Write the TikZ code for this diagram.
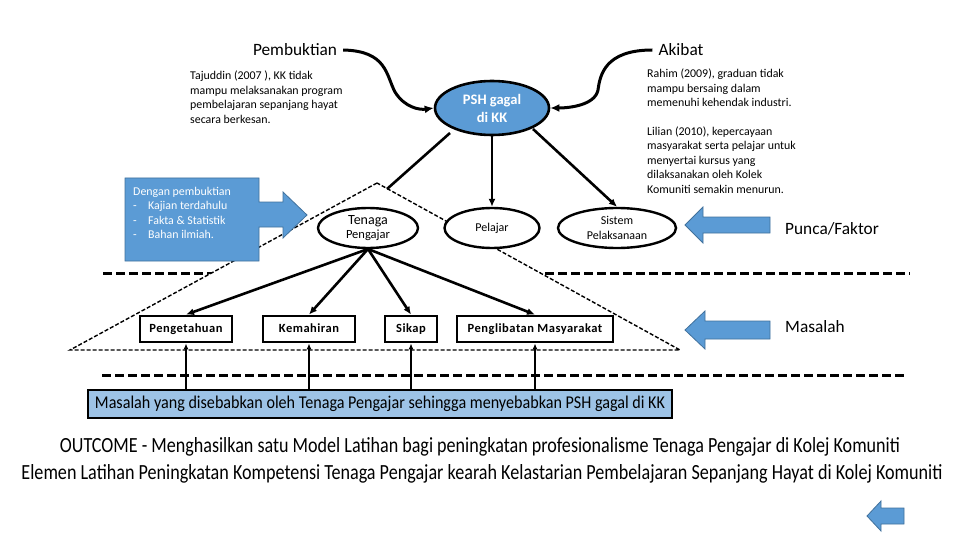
\documentclass[tikz,border=0pt]{standalone}
\usepackage{fontspec}
\setmainfont{Carlito}
\usetikzlibrary{shapes.geometric,arrows.meta}
\definecolor{blueA}{HTML}{5B9BD5}
\definecolor{blueB}{HTML}{41719C}
\definecolor{blueL}{HTML}{9DC3E6}
\begin{document}
\begin{tikzpicture}[x=1pt,y=-1pt,
  conn/.style={line width=2.6pt,-{Latex[length=8pt,width=7pt]}},
  upconn/.style={line width=2.4pt,-{Latex[length=6pt,width=5pt]}},
  curvy/.style={line width=3pt,-{Latex[length=9pt,width=8pt]}},
  oval/.style={ellipse,draw=black,line width=2.4pt,fill=white,minimum height=40pt,inner sep=0pt,align=center},
  boxnode/.style={rectangle,draw=black,line width=2.8pt,fill=white,minimum height=26pt,inner sep=0pt,text height=9pt,text depth=2.5pt,font=\fontsize{12.5}{14}\selectfont\bfseries\addfontfeature{LetterSpace=4}},
  thickdash/.style={line width=3pt,dash pattern=on 9pt off 4pt},
  thindash/.style={line width=1.4pt,dash pattern=on 4pt off 2pt},
  blockarrow/.style={fill=blueA,draw=blueB,line width=0.8pt},
  smalltext/.style={font=\fontsize{11.9}{14.4}\selectfont,align=left,inner sep=0pt},
  bigtext/.style={font=\fontsize{17.3}{20}\selectfont,inner sep=0pt}
]
\useasboundingbox[fill=white] (0,0) rectangle (960,540);

% thick dashed lines
\coordinate (d1a) at (103,273); \coordinate (d1b) at (910,273);
\draw[thickdash] (d1a) -- (d1b);
\coordinate (d2a) at (102,375); \coordinate (d2b) at (905,375);
\draw[thickdash] (d2a) -- (d2b);

% triangle
\coordinate (tA) at (377,183);
\coordinate (tL) at (70,350);
\coordinate (tR) at (680,350);
\draw[thindash,fill=white] (tA) -- (tL) -- (tR) -- cycle;

% titles
\node[bigtext] (pemb) at (295,50) {Pembuktian};
\node[bigtext] (akib) at (681,50) {Akibat};

% PSH ellipse
\node[ellipse,draw=black,line width=2.6pt,fill=blueA,minimum width=114pt,minimum height=54pt,inner sep=0pt,align=center,text=white,font=\fontsize{14.5}{18}\selectfont\bfseries] (psh) at (492,108) {PSH gagal\\di KK};

% curves
\draw[curvy] ([xshift=6pt]pemb.east) .. controls (387,51) and (386,75) .. (395,92) .. controls (405,108) and (420,110) .. (psh.west);
\draw[curvy] ([xshift=-6pt]akib.west) .. controls (605,50) and (600,75) .. (598,90) .. controls (595,105) and (570,108) .. (psh.east);

% quote texts
\node[smalltext,anchor=north west] (taj) at (190,71) {Tajuddin (2007 ), KK tidak\\mampu melaksanakan program\\pembelajaran sepanjang hayat\\secara berkesan.};
\node[smalltext,anchor=north west] (rah) at (647,69) {Rahim (2009), graduan tidak\\mampu bersaing dalam\\memenuhi kehendak industri.\\[14.4pt]Lilian (2010), kepercayaan\\masyarakat serta pelajar untuk\\menyertai kursus yang\\dilaksanakan oleh Kolek\\Komuniti semakin menurun.};

% left callout
\path[blockarrow] (125,178) -- (259,178) -- (259,202) -- (283,202) -- (283,192) -- (307,215) -- (283,238) -- (283,227) -- (259,227) -- (259,261) -- (125,261) -- cycle;
\node[smalltext,anchor=north west,text=white] (dengan) at (133,187) {Dengan pembuktian\\\makebox[15pt][l]{-}Kajian terdahulu\\\makebox[15pt][l]{-}Fakta \& Statistik\\\makebox[15pt][l]{-}Bahan ilmiah.};

% ovals
\node[oval,minimum width=100pt] (ten) at (368,228) {{\fontsize{14}{15}\selectfont Tenaga}\\[2pt]{\fontsize{12.5}{14}\selectfont Pengajar}};
\node[oval,minimum width=95pt,font=\fontsize{12}{14}\selectfont] (pel) at (492,228) {Pelajar};
\node[oval,minimum width=118pt,font=\fontsize{12}{14.5}\selectfont] (sis) at (617,228) {Sistem\\Pelaksanaan};

% connectors from PSH
\coordinate (tenTop) at (387,189);
\draw[line width=2.6pt] (450,133) -- (tenTop);
\draw[conn] (psh.south) -- (pel.north);
\draw[conn] (533,129) -- (sis.north);

% boxes
\node[boxnode,minimum width=92pt] (peng) at (186,329) {Pengetahuan};
\node[boxnode,minimum width=92pt] (kem) at (309,329) {Kemahiran};
\node[boxnode,minimum width=52pt] (sik) at (411,329) {Sikap};
\node[boxnode,minimum width=156pt] (pgl) at (535,329) {Penglibatan Masyarakat};

\coordinate (tenB) at (368,249);
\draw[conn] (tenB) -- (peng.north);
\draw[conn] (tenB) -- (kem.north);
\draw[conn] (tenB) -- (sik.north);
\draw[conn] (tenB) -- (pgl.north);

% bottom box
\node[rectangle,draw=black,line width=2pt,fill=blueL,minimum width=584pt,minimum height=28pt,inner sep=0pt] (mas) at (380,404) {\resizebox{570pt}{12.5pt}{Masalah yang disebabkan oleh Tenaga Pengajar sehingga menyebabkan PSH gagal di KK}};

\draw[upconn] (mas.north -| peng.south) -- (peng.south);
\draw[upconn] (mas.north -| kem.south) -- (kem.south);
\draw[upconn] (mas.north -| sik.south) -- (sik.south);
\draw[upconn] (mas.north -| pgl.south) -- (pgl.south);

% right block arrows
\path[blockarrow] (685,225) -- (703,207) -- (703,217) -- (770,217) -- (770,233) -- (703,233) -- (703,243) -- cycle;
\path[blockarrow] (685,330) -- (705,311) -- (705,321) -- (770,321) -- (770,339) -- (705,339) -- (705,349) -- cycle;
\node[bigtext,anchor=west] (punca) at (785,229) {Punca/Faktor};
\node[bigtext,anchor=west] (masl) at (785,327) {Masalah};

% outcome lines
\node[inner sep=0pt,anchor=base] (out) at (480,452) {\resizebox{840pt}{15pt}{OUTCOME - Menghasilkan satu Model Latihan bagi peningkatan profesionalisme Tenaga Pengajar di Kolej Komuniti}};
\node[inner sep=0pt,anchor=base] (ele) at (482,479) {\resizebox{921pt}{15pt}{Elemen Latihan Peningkatan Kompetensi Tenaga Pengajar kearah Kelastarian Pembelajaran Sepanjang Hayat di Kolej Komuniti}};

% small back arrow
\path[blockarrow] (867,516) -- (881,501) -- (881,508) -- (904,508) -- (904,524) -- (881,524) -- (881,531) -- cycle;
\end{tikzpicture}
\end{document}
